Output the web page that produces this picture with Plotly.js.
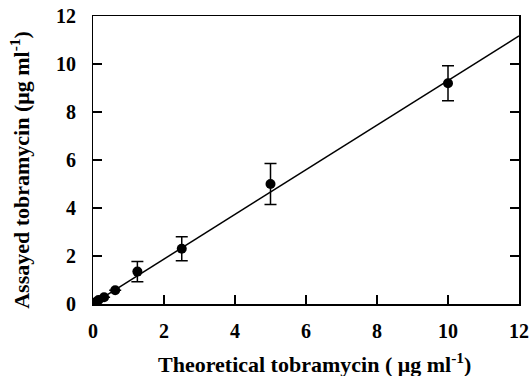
<!DOCTYPE html>
<html>
<head>
<meta charset="utf-8">
<script src="https://cdn.plot.ly/plotly-3.0.1.min.js"></script>
<style>html,body{margin:0;padding:0;background:#fff;}#chart{width:530px;height:376px;}</style>
</head>
<body>
<div id="chart"></div>
<script>
// Data
const theoretical = [0.078, 0.156, 0.3125, 0.625, 1.25, 2.5, 5, 10];
const assayed = [0.08, 0.17, 0.28, 0.57, 1.35, 2.3, 5.0, 9.2];
const assayedErr = [0, 0, 0, 0, 0.42, 0.5, 0.85, 0.73];
const fitX = [0.05, 12];
const fitY = [0.06, 11.17];
const tickVals = [0, 2, 4, 6, 8, 10, 12];
const xTitle = '<b>Theoretical tobramycin ( μg ml<sup>-1</sup>)</b>';
const yTitle = '<b>Assayed tobramycin (μg ml<sup>-1</sup>)</b>';

const fam = 'Liberation Serif';
const tickFont = {family: fam, size: 20, color: '#000'};

const traces = [
  {x: fitX, y: fitY, mode: 'lines', line: {color: '#000', width: 1.5}, hoverinfo: 'skip'},
  {x: theoretical, y: assayed, mode: 'markers', type: 'scatter',
   marker: {color: '#000', size: 10},
   error_y: {type: 'data', array: assayedErr, visible: true, color: '#000', thickness: 1.5, width: 6}}
];

function axis(extra) {
  return Object.assign({
    range: [0, 12], tickmode: 'array', tickvals: tickVals.slice(), showticklabels: false,
    showgrid: false, zeroline: false, showline: true, linecolor: '#000', linewidth: 1.5,
    ticks: 'inside', ticklen: 9, tickwidth: 1.5, tickcolor: '#000'
  }, extra);
}

// tick labels placed at the axis' own data coordinates
const xTickLabels = tickVals.map(v => ({
  text: '<b>' + v + '</b>', xref: 'x', yref: 'paper', x: v, y: -0.094,
  xanchor: 'center', yanchor: 'middle', showarrow: false, font: tickFont
}));
const yTickLabels = tickVals.map(v => ({
  text: '<b>' + v + '</b>', xref: 'paper', yref: 'y', x: 0, y: v, xshift: -15,
  xanchor: 'right', yanchor: 'middle', showarrow: false, font: tickFont
}));

const layout = {
  width: 530, height: 376,
  margin: {l: 93, r: 11, t: 16, b: 72},
  paper_bgcolor: '#fff', plot_bgcolor: '#fff',
  showlegend: false,
  font: {family: fam, size: 20, color: '#000'},
  xaxis: axis({mirror: true}),
  yaxis: axis({mirror: 'ticks'}),
  annotations: xTickLabels.concat(yTickLabels, [
    {text: xTitle, xref: 'paper', yref: 'paper', x: 0.519, y: -0.205, xanchor: 'center', yanchor: 'middle',
     showarrow: false, font: {family: fam, size: 22, color: '#000'}},
    {text: yTitle, xref: 'paper', yref: 'paper', x: -0.172, y: 0.465, xanchor: 'center', yanchor: 'middle',
     textangle: -90, showarrow: false, font: {family: fam, size: 22, color: '#000'}}
  ])
};

Plotly.newPlot('chart', traces, layout, {displayModeBar: false, staticPlot: true});
</script>
</body>
</html>
